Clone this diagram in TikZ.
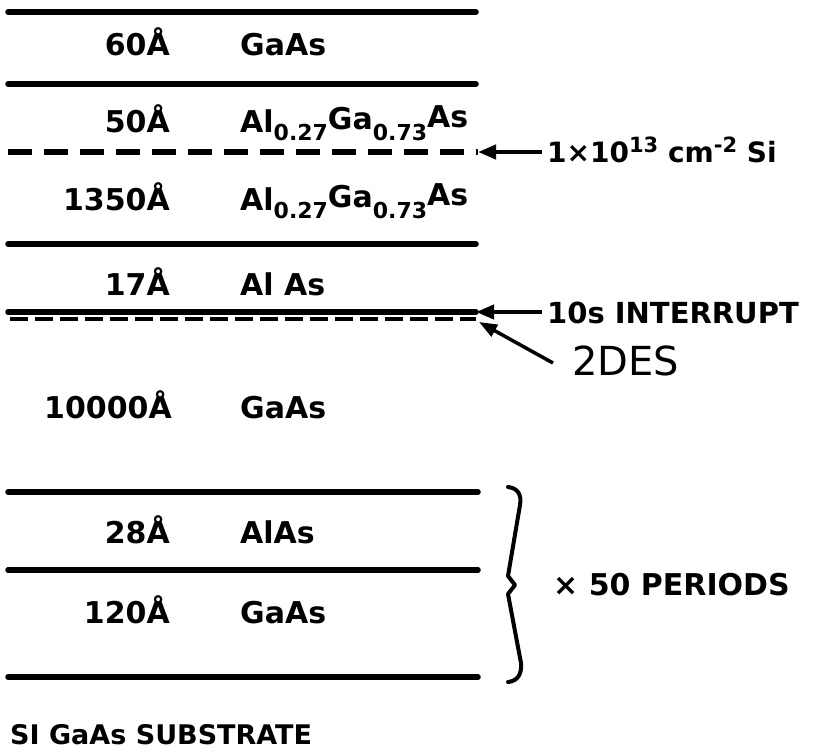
\documentclass[tikz,border=0pt]{standalone}
\usepackage{fontspec}
\setmainfont{DejaVu Sans}
\usetikzlibrary{arrows.meta}
\newcommand{\mysub}[1]{\raisebox{-8pt}{\fontsize{22}{22}\selectfont #1}}
\newcommand{\mysup}[1]{\raisebox{10pt}{\fontsize{21}{21}\selectfont #1}}
\begin{document}
\begin{tikzpicture}[x=1pt,y=-1pt,
  layer/.style={line width=5.5pt,line cap=round},
  dlayer/.style={line width=5.5pt,dash pattern=on 24pt off 12pt},
  ilayer/.style={line width=4.5pt,dash pattern=on 18pt off 7pt},
  lbl/.style={font=\bfseries\fontsize{30}{30}\selectfont,inner sep=0pt},
  thk/.style={lbl,anchor=base east},
  mat/.style={lbl,anchor=base west},
  note/.style={font=\bfseries\fontsize{28}{28}\selectfont,inner sep=0pt,anchor=base west},
  arr/.style={line width=4pt,-{Triangle[length=18pt,width=14pt]}}]
\useasboundingbox (0,0) rectangle (820,755);

% layer boundaries
\coordinate (a1) at (8,12);   \coordinate (b1) at (476,12);
\coordinate (a2) at (8,84);   \coordinate (b2) at (476,84);
\coordinate (a3) at (8,152);  \coordinate (b3) at (478,152);
\coordinate (a4) at (8,244);  \coordinate (b4) at (476,244);
\coordinate (a5) at (8,312);  \coordinate (b5) at (476,312);
\coordinate (a6) at (10,319); \coordinate (b6) at (476,319);
\coordinate (a7) at (8,492);  \coordinate (b7) at (478,492);
\coordinate (a8) at (8,570);  \coordinate (b8) at (478,570);
\coordinate (a9) at (8,677);  \coordinate (b9) at (478,677);

\draw[layer] (a1) -- (b1);
\draw[layer] (a2) -- (b2);
\draw[dlayer] (a3) -- (b3);
\draw[layer] (a4) -- (b4);
\draw[layer] (a5) -- (b5);
\draw[ilayer] (a6) -- (b6);
\draw[layer] (a7) -- (b7);
\draw[layer] (a8) -- (b8);
\draw[layer] (a9) -- (b9);

% thickness labels
\node[thk] (t1) at (170,55)  {60Å};
\node[thk] (t2) at (170,132) {50Å};
\node[thk] (t3) at (170,210) {1350Å};
\node[thk] (t4) at (170,295) {17Å};
\node[thk] (t5) at (172,418) {10000Å};
\node[thk] (t6) at (170,543) {28Å};
\node[thk] (t7) at (170,623) {120Å};

% materials
\node[mat] (m1) at (240,55)  {GaAs};
\node[mat] (m2) at (240,132) {Al\mysub{0.27}\raisebox{3pt}{Ga}\mysub{0.73}\raisebox{5pt}{As}};
\node[mat] (m3) at (240,210) {Al\mysub{0.27}\raisebox{3pt}{Ga}\mysub{0.73}\raisebox{5pt}{As}};
\node[mat] (m4) at (240,295) {Al As};
\node[mat] (m5) at (240,418) {GaAs};
\node[mat] (m6) at (240,543) {AlAs};
\node[mat] (m7) at (240,623) {GaAs};

% annotations
\node[note] (si) at (547,162) {1×10\mysup{13} cm\mysup{-2} Si};
\draw[arr] (si.west |- b3) ++(-5pt,0) -- (b3);
\node[note,font=\bfseries\fontsize{29}{29}\selectfont] (int) at (547,323) {10s INTERRUPT};
\draw[arr] (int.west |- b5) ++(-5pt,0) -- (b5);
\node[anchor=base west,inner sep=0pt,font=\fontsize{40}{40}\selectfont] (des) at (572,375) {2DES};
\coordinate (desarr) at (553,363);
\coordinate (destip) at (479,322);
\draw[line width=3.5pt,-{Triangle[length=18pt,width=13pt]}] (desarr) -- (destip);

% brace
\draw[line width=4pt,line cap=round,line join=round]
  (508,487) .. controls (517,488) and (522,494) .. (520,505)
  -- (508,576) -- (515,585) -- (508,594) -- (521,663)
  .. controls (522,675) and (517,681) .. (508,682);
\node[note,font=\bfseries\fontsize{30}{30}\selectfont] (per) at (553,595) {× 50 PERIODS};

\node[anchor=base west,inner sep=0pt,font=\bfseries\fontsize{27}{27}\selectfont] (sub) at (10,744) {SI GaAs SUBSTRATE};
\end{tikzpicture}
\end{document}
